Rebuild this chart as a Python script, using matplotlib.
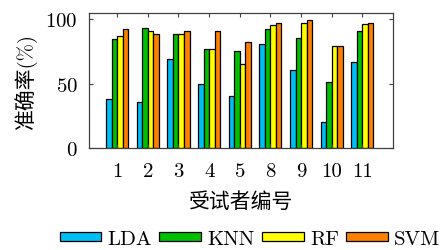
import numpy as np
import matplotlib
matplotlib.use("Agg")
import matplotlib.pyplot as plt

plt.rcParams['font.family'] = ['cmr10', 'Noto Sans CJK SC']
plt.rcParams['axes.formatter.use_mathtext'] = True

# 数据
subjects = ['1', '2', '3', '4', '5', '8', '9', '10', '11']
methods = ['LDA', 'KNN', 'RF', 'SVM']
lda = [38, 36, 69.5, 50, 40.5, 81, 60.7, 20.4, 66.9]
knn = [85, 93, 88.4, 76.7, 75.2, 92.8, 85.5, 51, 91.2]
rf = [87, 91, 88.4, 76.7, 65, 95.6, 96.9, 79.3, 96.6]
svm = [92.8, 88.6, 91.2, 91.2, 82.4, 96.9, 99.7, 79.3, 96.9]
colors = ['#00bff5', '#00c000', '#ffff00', '#ff8000']

fig = plt.figure(figsize=(4.41, 2.51), dpi=100)
ax = fig.add_axes([89 / 441, 1 - 149 / 251, (393 - 89) / 441, (149 - 14) / 251])

x = np.arange(1, len(subjects) + 1)
w = 0.18
for i, (vals, name) in enumerate(zip([lda, knn, rf, svm], methods)):
    ax.bar(x + (i - 1.5) * w, vals, w, color=colors[i], edgecolor='black',
           linewidth=0.9, label=name)

ax.set_xlim(0.08, 10.0)
ax.set_ylim(0, 105)
ax.set_xticks(x)
ax.set_xticklabels(subjects)
ax.set_yticks([0, 50, 100])
ax.tick_params(direction='in', top=True, right=True, labelsize=15,
               length=3, width=0.8, color='#404040')
ax.tick_params(axis='x', pad=10)
ax.tick_params(axis='y', pad=8)
for s in ax.spines.values():
    s.set_color('#404040')
    s.set_linewidth(0.9)

ax.set_xlabel('受试者编号', fontsize=15, labelpad=8)
ax.set_ylabel('准确率(%)', fontsize=15, labelpad=6)

fig.legend(loc='center', bbox_to_anchor=(0.567, 0.045), ncol=4, frameon=False,
           fontsize=15, handlelength=2.0, handleheight=0.3, handletextpad=0.3,
           columnspacing=0.35, borderaxespad=0)

fig.savefig('out.png', dpi=100)
